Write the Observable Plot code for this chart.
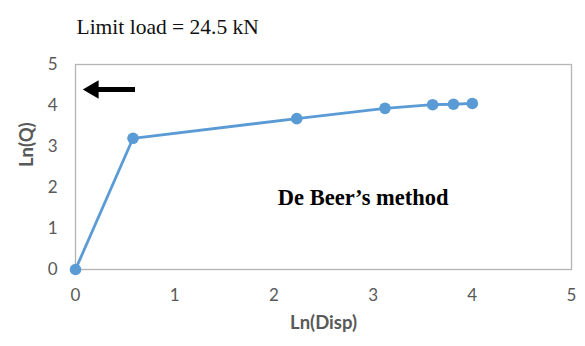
<!DOCTYPE html>
<html>
<head>
<meta charset="utf-8">
<script src="https://cdn.jsdelivr.net/npm/d3@7"></script>
<script src="https://cdn.jsdelivr.net/npm/@observablehq/plot@0.6"></script>
<style>
  html, body { margin: 0; padding: 0; background: #fff; }
</style>
</head>
<body>
<div id="chart"></div>
<script>
// Load test: natural logs of displacement and load
const lnDisp = [0, 0.58, 2.23, 3.12, 3.60, 3.81, 4.00];
const lnQ    = [0, 3.20, 3.68, 3.93, 4.02, 4.03, 4.05];

const xTicks = [0, 1, 2, 3, 4, 5];
const yTicks = [0, 1, 2, 3, 4, 5];

const titleText = "Limit load = 24.5 kN";
const methodText = "De Beer\u2019s method";
const methodPos = {x: 2.9, y: 1.76};
const xLabel = "Ln(Disp)";
const yLabel = "Ln(Q)";

// Arrow pointing at the limit load on the Ln(Q) axis
const arrowShaft = [{x1: 0.18, x2: 0.60, y: 4.39}];
const arrowHead = [{x: 0.18, y: 4.39}];

const points = lnDisp.map((d, i) => ({disp: d, q: lnQ[i]}));

const sans = "Lato, 'Open Sans', sans-serif";
const serif = "'Liberation Serif', 'DejaVu Serif', serif";
const grey = "#595959";

const chart = Plot.plot({
  width: 585,
  height: 346,
  marginLeft: 75,
  marginRight: 14,
  marginTop: 64,
  marginBottom: 77,
  style: {fontFamily: sans, background: "#fff"},
  x: {domain: [0, 5]},
  y: {domain: [0, 5]},
  marks: [
    Plot.frame({stroke: "#b4b4b4", strokeWidth: 1.3}),
    Plot.axisX({
      ticks: xTicks, tickFormat: "d", tickSize: 0, tickPadding: 19,
      fontSize: 17, color: grey, label: null
    }),
    Plot.axisY({
      ticks: yTicks, tickFormat: "d", tickSize: 0, tickPadding: 18,
      fontSize: 17, color: grey, label: null
    }),
    // axis titles
    Plot.text([xLabel], {
      frameAnchor: "bottom", dy: 59,
      fontSize: 18.5, fontWeight: "bold", fill: grey
    }),
    Plot.text([yLabel], {
      frameAnchor: "left", dx: -48, rotate: -90,
      fontSize: 18.5, fontWeight: "bold", fill: grey
    }),
    Plot.line(points, {x: "disp", y: "q", stroke: "#5b9bd5", strokeWidth: 2.8}),
    Plot.dot(points, {x: "disp", y: "q", r: 5.8, fill: "#5b9bd5"}),
    Plot.link(arrowShaft, {x1: "x1", x2: "x2", y1: "y", y2: "y", stroke: "#000", strokeWidth: 5}),
    Plot.dot(arrowHead, {x: "x", y: "y", symbol: "triangle", r: 6.8, rotate: -90, fill: "#000", stroke: "none"}),
    Plot.text([methodText], {
      x: () => methodPos.x, y: () => methodPos.y,
      fontFamily: serif, fontWeight: "bold", fontSize: 22.5, fill: "#000"
    }),
    Plot.text([titleText], {
      frameAnchor: "top-left", dx: 1, dy: -46,
      fontFamily: serif, fontSize: 21.5, fill: "#111", textAnchor: "start"
    })
  ]
});

document.getElementById("chart").appendChild(chart);
</script>
</body>
</html>
